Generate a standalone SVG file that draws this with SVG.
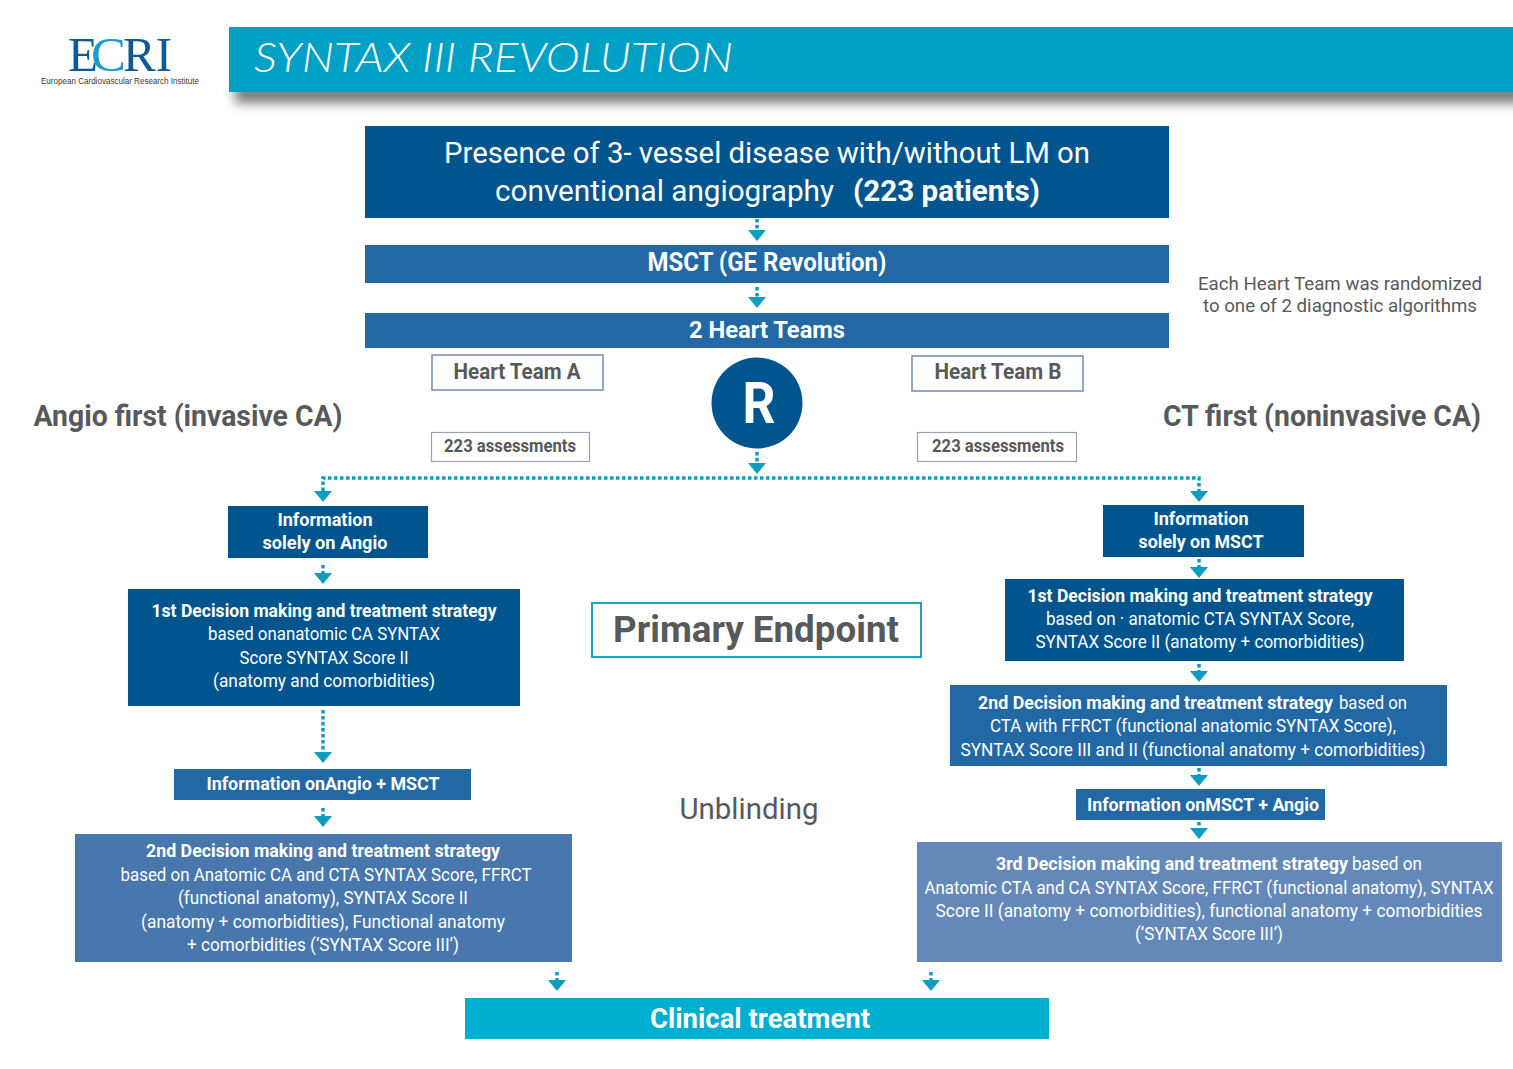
<svg xmlns="http://www.w3.org/2000/svg" width="1513" height="1069" viewBox="0 0 1513 1069">
<style>
text{font-family:Roboto,"Open Sans","Liberation Sans",sans-serif;}
.w{fill:#fff;font-size:18px;font-weight:700;text-anchor:middle}
.r{fill:#fff;font-size:18px;text-anchor:middle}
.s{fill:#fff;font-size:18px}
.b{font-weight:700}
.g{fill:#58595b;font-weight:700;text-anchor:middle}
.c{fill:none;stroke:#0f9dbf;stroke-width:3.500;stroke-dasharray:3.500 2.500}
.o{fill:#fff;stroke-width:1.6}
.ah{fill:#0f9dbf}
</style>
<defs>
<filter id="blur" x="-5%" y="-60%" width="110%" height="220%"><feGaussianBlur stdDeviation="6"/></filter>
<symbol id="arrow" overflow="visible"><path class="ah" d="M-9 0H9L0 11Z"/></symbol>
</defs>
<g id="logo">
<text x="68" y="71" style="font-family:'Liberation Serif',serif" font-size="49" fill="#0d5a94" textLength="30" lengthAdjust="spacingAndGlyphs">E</text>
<text x="91" y="71" style="font-family:'Liberation Serif',serif" font-size="49" fill="#1d9cc4" textLength="35" lengthAdjust="spacingAndGlyphs">C</text>
<text x="123" y="71" style="font-family:'Liberation Serif',serif" font-size="49" fill="#0d5a94" textLength="49" lengthAdjust="spacingAndGlyphs">RI</text>
<text x="120" y="84" text-anchor="middle" style="font-family:'Liberation Sans',sans-serif" font-size="8.500" fill="#3a3a3a" textLength="158" lengthAdjust="spacingAndGlyphs">European Cardiovascular Research Institute</text>
</g>
<g id="title-bar">
<rect x="235" y="84" width="1290" height="19" fill="#777" filter="url(#blur)"/>
<rect x="229" y="27" width="1284" height="65" fill="#00a0c6"/>
<text x="254" y="72" font-size="42" font-style="italic" fill="#fff" style="font-family:Lato,sans-serif;font-weight:300" textLength="479" lengthAdjust="spacingAndGlyphs">SYNTAX III REVOLUTION</text>
</g>
<g id="connectors">
<path class="c" d="M757 219V230"/><use href="#arrow" x="757" y="230"/>
<path class="c" d="M757 287V298"/><use href="#arrow" x="757" y="297"/>
<path class="c" d="M757 452V463"/><use href="#arrow" x="757" y="463"/>
<path class="c" d="M323 491V478H1199V491"/><use href="#arrow" x="323" y="491"/><use href="#arrow" x="1199" y="491"/>
<path class="c" d="M323 565V574"/><use href="#arrow" x="323" y="573"/>
<path class="c" d="M323 710V753"/><use href="#arrow" x="323" y="752"/>
<path class="c" d="M323 808V817"/><use href="#arrow" x="323" y="816"/>
<path class="c" d="M1199 559V568"/><use href="#arrow" x="1199" y="567"/>
<path class="c" d="M1199 664V672"/><use href="#arrow" x="1199" y="671"/>
<path class="c" d="M1199 768V776"/><use href="#arrow" x="1199" y="775"/>
<path class="c" d="M1199 822V829"/><use href="#arrow" x="1199" y="828"/>
<path class="c" d="M557 972V981"/><use href="#arrow" x="557" y="980"/>
<path class="c" d="M931 972V981"/><use href="#arrow" x="931" y="980"/>
</g>
<g id="presence">
<rect x="365" y="126" width="804" height="92" fill="#00558f"/>
<text class="r" x="767" y="163" style="font-size:30px" textLength="646" lengthAdjust="spacingAndGlyphs">Presence of 3- vessel disease with/without LM on</text>
<text class="s" x="495" y="201" style="font-size:30px" textLength="339" lengthAdjust="spacingAndGlyphs">conventional angiography</text>
<text class="s b" x="853" y="201" style="font-size:30px" textLength="187" lengthAdjust="spacingAndGlyphs">(223 patients)</text>
</g>
<g id="msct">
<rect x="365" y="245" width="804" height="38" fill="#2268a4"/>
<text class="w" x="767" y="271" style="font-size:25px" textLength="239" lengthAdjust="spacingAndGlyphs">MSCT (GE Revolution)</text>
</g>
<g id="heart-teams">
<rect x="365" y="313" width="804" height="35" fill="#2268a4"/>
<text class="w" x="767" y="338" style="font-size:24px" textLength="156" lengthAdjust="spacingAndGlyphs">2 Heart Teams</text>
</g>
<g id="note">
<text x="1340" y="290" fill="#58595b" text-anchor="middle" style="font-size:19px" textLength="284" lengthAdjust="spacingAndGlyphs">Each Heart Team was randomized</text>
<text x="1340" y="312" fill="#58595b" text-anchor="middle" style="font-size:19px" textLength="274" lengthAdjust="spacingAndGlyphs">to one of 2 diagnostic algorithms</text>
</g>
<g id="team-a">
<rect class="o" x="432" y="355" width="171" height="35" stroke="#7b93b5"/>
<text class="g" x="517" y="379" style="font-size:22px" textLength="127" lengthAdjust="spacingAndGlyphs">Heart Team A</text>
</g>
<g id="team-b">
<rect class="o" x="912" y="356" width="171" height="35" stroke="#7b93b5"/>
<text class="g" x="998" y="379" style="font-size:22px" textLength="127" lengthAdjust="spacingAndGlyphs">Heart Team B</text>
</g>
<g id="randomization">
<circle cx="757" cy="403" r="45.500" fill="#00558f"/>
<text x="759" y="423" fill="#fff" text-anchor="middle" style="font-size:58px;font-weight:700" textLength="33" lengthAdjust="spacingAndGlyphs">R</text>
</g>
<g id="angio-first"><text class="g" x="188" y="426" style="font-size:30px" textLength="309" lengthAdjust="spacingAndGlyphs">Angio first (invasive CA)</text></g>
<g id="ct-first"><text class="g" x="1322" y="426" style="font-size:30px" textLength="318" lengthAdjust="spacingAndGlyphs">CT first (noninvasive CA)</text></g>
<g id="assess-a">
<rect class="o" x="431.500" y="432.500" width="158" height="29" stroke="#9aa3ad" style="stroke-width:1.2"/>
<text class="g" x="510" y="452" style="font-size:18px" textLength="132" lengthAdjust="spacingAndGlyphs">223 assessments</text>
</g>
<g id="assess-b">
<rect class="o" x="917.500" y="432.500" width="159" height="29" stroke="#9aa3ad" style="stroke-width:1.2"/>
<text class="g" x="998" y="452" style="font-size:18px" textLength="132" lengthAdjust="spacingAndGlyphs">223 assessments</text>
</g>
<g id="info-angio">
<rect x="228" y="506" width="200" height="52" fill="#00558f"/>
<text class="w" x="325" y="526" textLength="95" lengthAdjust="spacingAndGlyphs">Information</text>
<text class="w" x="325" y="549" textLength="125" lengthAdjust="spacingAndGlyphs">solely on Angio</text>
</g>
<g id="info-msct">
<rect x="1103" y="505" width="201" height="52" fill="#00558f"/>
<text class="w" x="1201" y="525" textLength="95" lengthAdjust="spacingAndGlyphs">Information</text>
<text class="w" x="1201" y="548" textLength="125" lengthAdjust="spacingAndGlyphs">solely on MSCT</text>
</g>
<g id="first-decision-left">
<rect x="128" y="589" width="392" height="117" fill="#00558f"/>
<text class="w" x="324" y="617" textLength="345" lengthAdjust="spacingAndGlyphs">1st Decision making and treatment strategy</text>
<text class="r" x="324" y="640" textLength="232" lengthAdjust="spacingAndGlyphs">based onanatomic CA SYNTAX</text>
<text class="r" x="324" y="664" textLength="169" lengthAdjust="spacingAndGlyphs">Score SYNTAX Score II</text>
<text class="r" x="324" y="687" textLength="222" lengthAdjust="spacingAndGlyphs">(anatomy and comorbidities)</text>
</g>
<g id="first-decision-right">
<rect x="1005" y="579" width="399" height="82" fill="#00558f"/>
<text class="w" x="1200" y="602" textLength="345" lengthAdjust="spacingAndGlyphs">1st Decision making and treatment strategy</text>
<text class="r" x="1200" y="625" textLength="308" lengthAdjust="spacingAndGlyphs">based on · anatomic CTA SYNTAX Score,</text>
<text class="r" x="1200" y="648" textLength="329" lengthAdjust="spacingAndGlyphs">SYNTAX Score II (anatomy + comorbidities)</text>
</g>
<g id="primary-endpoint">
<rect x="592" y="603" width="329" height="54" fill="#fff" stroke="#1aa3c4" stroke-width="2"/>
<text class="g" x="756" y="642" style="font-size:36px" textLength="286" lengthAdjust="spacingAndGlyphs">Primary Endpoint</text>
</g>
<g id="second-decision-right">
<rect x="950" y="685" width="497" height="81" fill="#2268a4"/>
<text class="s b" x="978" y="709" textLength="355" lengthAdjust="spacingAndGlyphs">2nd Decision making and treatment strategy</text>
<text class="s" x="1339" y="709" textLength="68" lengthAdjust="spacingAndGlyphs">based on</text>
<text class="r" x="1193" y="732" textLength="406" lengthAdjust="spacingAndGlyphs">CTA with FFRCT (functional anatomic SYNTAX Score),</text>
<text class="r" x="1193" y="756" textLength="465" lengthAdjust="spacingAndGlyphs">SYNTAX Score III and II (functional anatomy + comorbidities)</text>
</g>
<g id="info-angio-msct">
<rect x="174" y="769" width="297" height="31" fill="#2268a4"/>
<text class="w" x="323" y="790" textLength="233" lengthAdjust="spacingAndGlyphs">Information onAngio + MSCT</text>
</g>
<g id="info-msct-angio">
<rect x="1076" y="789" width="249" height="31" fill="#2268a4"/>
<text class="w" x="1203" y="811" textLength="232" lengthAdjust="spacingAndGlyphs">Information onMSCT + Angio</text>
</g>
<g id="unblinding">
<text x="749" y="819" fill="#58595b" text-anchor="middle" style="font-size:30px" textLength="139" lengthAdjust="spacingAndGlyphs">Unblinding</text>
</g>
<g id="second-decision-left">
<rect x="75" y="834" width="497" height="128" fill="#4877ad"/>
<text class="w" x="323" y="857" textLength="354" lengthAdjust="spacingAndGlyphs">2nd Decision making and treatment strategy</text>
<text class="r" x="326" y="881" textLength="411" lengthAdjust="spacingAndGlyphs">based on Anatomic CA and CTA SYNTAX Score, FFRCT</text>
<text class="r" x="323" y="904" textLength="290" lengthAdjust="spacingAndGlyphs">(functional anatomy), SYNTAX Score II</text>
<text class="r" x="323" y="928" textLength="364" lengthAdjust="spacingAndGlyphs">(anatomy + comorbidities), Functional anatomy</text>
<text class="r" x="323" y="951" textLength="272" lengthAdjust="spacingAndGlyphs">+ comorbidities (‘SYNTAX Score III’)</text>
</g>
<g id="third-decision">
<rect x="917" y="842" width="585" height="120" fill="#6489b8"/>
<text class="s b" x="996" y="870" textLength="352" lengthAdjust="spacingAndGlyphs">3rd Decision making and treatment strategy</text>
<text class="s" x="1352" y="870" textLength="70" lengthAdjust="spacingAndGlyphs">based on</text>
<text class="r" x="1209" y="894" textLength="569" lengthAdjust="spacingAndGlyphs">Anatomic CTA and CA SYNTAX Score, FFRCT (functional anatomy), SYNTAX</text>
<text class="r" x="1209" y="917" textLength="547" lengthAdjust="spacingAndGlyphs">Score II (anatomy + comorbidities), functional anatomy + comorbidities</text>
<text class="r" x="1209" y="940" textLength="148" lengthAdjust="spacingAndGlyphs">(‘SYNTAX Score III’)</text>
</g>
<g id="clinical-treatment">
<rect x="465" y="998" width="584" height="41" fill="#00afd0"/>
<text class="w" x="760" y="1028" style="font-size:27px" textLength="220" lengthAdjust="spacingAndGlyphs">Clinical treatment</text>
</g>
</svg>
